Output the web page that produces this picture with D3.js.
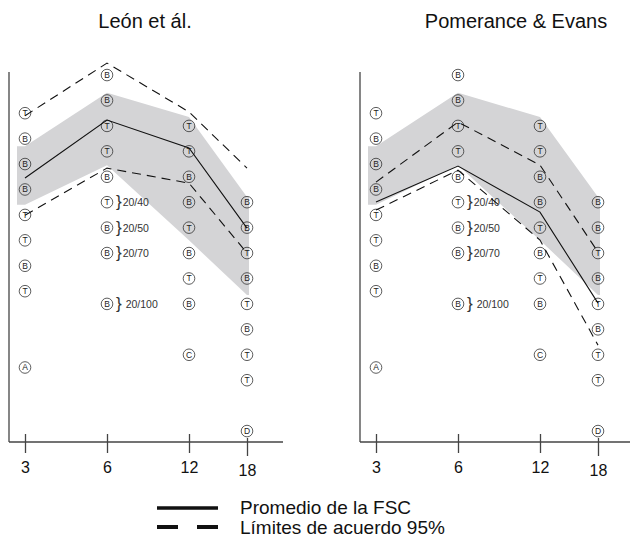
<!DOCTYPE html>
<html>
<head>
<meta charset="utf-8">
<script src="https://cdn.jsdelivr.net/npm/d3@7"></script>
<style>
  body { margin: 0; background: #fff; }
  text { font-family: "Liberation Sans", Arial, sans-serif; }
</style>
</head>
<body>
<div id="graph1"></div>
<script>
// ages (months) on the x axis
const ages = [3, 6, 12, 18];

// acuity cards shown at each age (letter + logMAR value)
const letters3 = ["T", "B", "B", "B", "T", "T", "B", "T", "A"];
const acuity3 = [-0.05, 0.05, 0.15, 0.25, 0.35, 0.45, 0.55, 0.65, 0.95];
const letters6 = ["B", "B", "T", "T", "B", "T", "B", "B", "B"];
const acuity6 = [-0.2, -0.1, 0.0, 0.1, 0.2, 0.3, 0.4, 0.5, 0.7];
const letters12 = ["T", "T", "B", "B", "T", "B", "T", "B", "C"];
const acuity12 = [0.0, 0.1, 0.2, 0.3, 0.4, 0.5, 0.6, 0.7, 0.9];
const letters18 = ["B", "B", "T", "B", "T", "B", "T", "T", "D"];
const acuity18 = [0.3, 0.4, 0.5, 0.6, 0.7, 0.8, 0.9, 1.0, 1.2];

// snellen equivalents written next to the 6 month column
const snellenLabels = ["20/40", "20/50", "20/70", "20/100"];
const snellenAcuity = [0.3, 0.4, 0.5, 0.7];

// normative range (grey band)
const normTop = [0.08, -0.13, -0.035, 0.28];
const normBottom = [0.31, 0.155, 0.45, 0.665];

// León et ál.
const leonMean = [0.205, -0.023, 0.087, 0.402];
const leonUpper = [-0.04, -0.247, -0.055, 0.166];
const leonLower = [0.351, 0.166, 0.225, 0.5];

// Pomerance & Evans
const pomMean = [0.299, 0.158, 0.339, 0.697];
const pomUpper = [0.221, -0.015, 0.154, 0.496];
const pomLower = [0.331, 0.174, 0.449, 0.862];

const legendLabels = ["Promedio de la FSC", "Límites de acuerdo 95%"];

let graph_width = 630, graph_height = 543;
let panel_width = 274;
let top_y = 72, bottom_y = 442;

let svg = d3.select("#graph1")
    .append("svg")
    .attr("width", graph_width)
    .attr("height", graph_height);

let x = d3.scaleOrdinal()
    .domain(ages)
    .range([16, 98, 180, 238]);

let y = d3.scaleLinear()
    .domain([-0.212, 1.243])
    .range([top_y, bottom_y]);

let columns = [
    {age: 3, letters: letters3, values: acuity3},
    {age: 6, letters: letters6, values: acuity6},
    {age: 12, letters: letters12, values: acuity12},
    {age: 18, letters: letters18, values: acuity18}
];

let panels = [
    {title: "León et ál.", left: 9, titleX: 136, mean: leonMean, upper: leonUpper, lower: leonLower},
    {title: "Pomerance & Evans", left: 360, titleX: 156, mean: pomMean, upper: pomUpper, lower: pomLower}
];

let line = d3.line()
    .x(d => x(d.age))
    .y(d => y(d.v));

function series(vals) {
    return ages.map((a, i) => ({age: a, v: vals[i]}));
}

panels.forEach(p => {
    let g = svg.append("g")
        .attr("transform", `translate(${p.left},0)`);

    g.append("text")
        .attr("x", p.titleX)
        .attr("y", 28)
        .style("text-anchor", "middle")
        .style("font-size", "20px")
        .attr("fill", "#111")
        .text(p.title);

    // grey normative band, a little wider than the first/last column
    let band = ages.map((a, i) => ({px: x(a), t: normTop[i], b: normBottom[i]}));
    band.unshift({px: x(ages[0]) - 8, t: normTop[0], b: normBottom[0]});
    band.push({px: x(ages[3]) + 2, t: normTop[3], b: normBottom[3]});
    g.append("path")
        .datum(band)
        .attr("fill", "#d4d4d6")
        .attr("d", d3.area().x(d => d.px).y0(d => y(d.t)).y1(d => y(d.b)));

    // axes
    g.append("line")
        .attr("x1", 0).attr("x2", 0)
        .attr("y1", top_y).attr("y2", bottom_y)
        .attr("stroke", "#444").attr("stroke-width", 1.3);
    g.append("line")
        .attr("x1", 0).attr("x2", panel_width)
        .attr("y1", bottom_y).attr("y2", bottom_y)
        .attr("stroke", "#444").attr("stroke-width", 1.3);

    let xAxis = g.append("g")
        .attr("transform", `translate(0,${bottom_y})`)
        .call(d3.axisBottom(x).tickSize(11).tickPadding(9).tickSizeOuter(0));
    xAxis.select(".domain").remove();
    xAxis.selectAll(".tick line")
        .attr("y1", d => d == 18 ? -4 : -8)
        .attr("y2", d => d == 18 ? 14 : 11)
        .attr("stroke", "#444")
        .attr("stroke-width", 1.3);
    xAxis.selectAll(".tick text")
        .attr("y", d => d == 18 ? 23 : 20)
        .style("font-size", "16px")
        .style("font-family", "'Liberation Sans', Arial, sans-serif")
        .attr("fill", "#111");

    // card markers
    columns.forEach(c => {
        let marks = g.selectAll(null)
            .data(c.values.map((v, i) => ({v: v, letter: c.letters[i]})))
            .enter()
            .append("g")
            .attr("transform", d => `translate(${x(c.age)},${y(d.v)})`);
        marks.append("circle")
            .attr("r", 5.8)
            .attr("fill", "none")
            .attr("stroke", "#333")
            .attr("stroke-width", 0.8);
        marks.append("text")
            .attr("y", 3)
            .style("text-anchor", "middle")
            .style("font-size", "8.5px")
            .attr("fill", "#222")
            .text(d => d.letter);
    });

    // snellen labels
    let sn = g.selectAll(null)
        .data(snellenLabels.map((s, i) => ({s: s, v: snellenAcuity[i]})))
        .enter()
        .append("text")
        .attr("x", x(6) + 9)
        .attr("y", d => y(d.v) + 5)
        .attr("fill", "#333");
    sn.append("tspan")
        .style("font-size", "17px")
        .style("font-weight", "300")
        .text("}");
    sn.append("tspan")
        .attr("dx", d => d.s.length > 5 ? 4 : 1)
        .attr("dy", -1)
        .style("font-size", "10.5px")
        .text(d => d.s);

    // mean and limits
    g.append("path")
        .datum(series(p.mean))
        .attr("fill", "none")
        .attr("stroke", "#111")
        .attr("stroke-width", 1.1)
        .attr("d", line);
    [p.upper, p.lower].forEach(vals => {
        g.append("path")
            .datum(series(vals))
            .attr("fill", "none")
            .attr("stroke", "#111")
            .attr("stroke-width", 1.1)
            .attr("stroke-dasharray", "9,6")
            .attr("d", line);
    });
});

// legend
let legend = svg.append("g");
legend.append("line")
    .attr("x1", 157).attr("x2", 218)
    .attr("y1", 508).attr("y2", 508)
    .attr("stroke", "#111").attr("stroke-width", 3.5);
legend.append("line")
    .attr("x1", 157).attr("x2", 218)
    .attr("y1", 527).attr("y2", 527)
    .attr("stroke", "#111").attr("stroke-width", 4)
    .attr("stroke-dasharray", "21,19");
legend.selectAll("text")
    .data(legendLabels)
    .enter()
    .append("text")
    .attr("x", 240)
    .attr("y", (d, i) => 514 + i * 20)
    .style("font-size", "19px")
    .attr("fill", "#111")
    .text(d => d);
</script>
</body>
</html>
